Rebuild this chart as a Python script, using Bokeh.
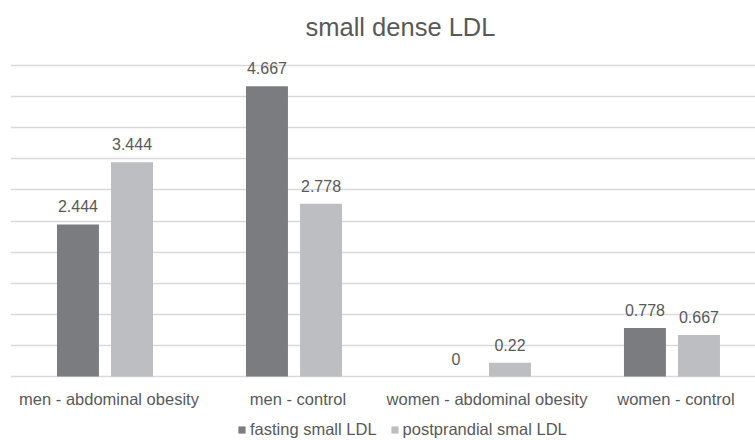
from bokeh.plotting import figure
from bokeh.models import Range1d, FixedTicker, Legend, LegendItem, ColumnDataSource
from bokeh.core.properties import value
from bokeh.embed import file_html
from bokeh.resources import INLINE

categories = ["men - abdominal obesity", "men - control", "women - abdominal obesity", "women - control"]
series_names = ["fasting small LDL", "postprandial smal LDL"]
fasting = [2.444, 4.667, 0, 0.778]
postprandial = [3.444, 2.778, 0.22, 0.667]
grid_ticks = [0, 0.5, 1, 1.5, 2, 2.5, 3, 3.5, 4, 4.5, 5]

FONT = "Liberation Sans"
TXT = "#595959"
DARK = "#7b7c80"
LIGHT = "#bdbec1"

p = figure(width=755, height=440, output_backend="svg", toolbar_location=None,
           x_range=Range1d(0, 3.942), y_range=Range1d(-1.029, 5.322),
           min_border_left=10, min_border_right=0, min_border_top=45, min_border_bottom=0)
p.outline_line_color = None
p.background_fill_color = "white"
p.border_fill_color = "white"

p.title.text = "small dense LDL"
p.title.align = "left"
p.title.offset = 295
p.title.text_font = FONT
p.title.text_font_size = "25.5px"
p.title.text_font_style = "normal"
p.title.text_color = TXT

centers = [i + 0.5 for i in range(len(categories))]
off = 0.143
w = 0.222

src1 = ColumnDataSource(dict(x=[c - off for c in centers], top=fasting,
                             lbl=[f"{v:g}" for v in fasting]))
src2 = ColumnDataSource(dict(x=[c + off for c in centers], top=postprandial,
                             lbl=[f"{v:g}" for v in postprandial]))

r1 = p.vbar(x="x", top="top", width=w, source=src1, fill_color=DARK, line_color=None)
r2 = p.vbar(x="x", top="top", width=w, source=src2, fill_color=LIGHT, line_color=None)

for s in (src1, src2):
    p.text(x="x", y="top", text="lbl", source=s, text_align="center",
           text_baseline="alphabetic", y_offset=-18, text_font=value(FONT),
           text_font_size="16px", text_color=TXT)

# category labels under the baseline (value 0)
cat_src = ColumnDataSource(dict(x=centers, y=[0] * len(categories), lbl=categories))
p.text(x="x", y="y", text="lbl", source=cat_src, text_align="center",
       text_baseline="alphabetic", x_offset=4, y_offset=22, text_font=value(FONT),
       text_font_size="16.5px", text_color=TXT)

p.xgrid.visible = False
p.ygrid.ticker = FixedTicker(ticks=grid_ticks)
p.ygrid.grid_line_color = "#d9d9d9"
p.ygrid.grid_line_width = 1.5
p.yaxis.visible = False
p.xaxis.visible = False

legend = Legend(items=[LegendItem(label=series_names[0], renderers=[r1]),
                       LegendItem(label=series_names[1], renderers=[r2])],
                orientation="horizontal", location=(227, 1),
                label_text_font=FONT, label_text_font_size="16.5px", label_text_color=TXT,
                label_height=9, glyph_width=9, glyph_height=9, label_standoff=4, spacing=13,
                padding=0, margin=0, border_line_color=None, background_fill_alpha=0)
p.add_layout(legend, "center")

open("out.html", "w").write(file_html(p, INLINE))
